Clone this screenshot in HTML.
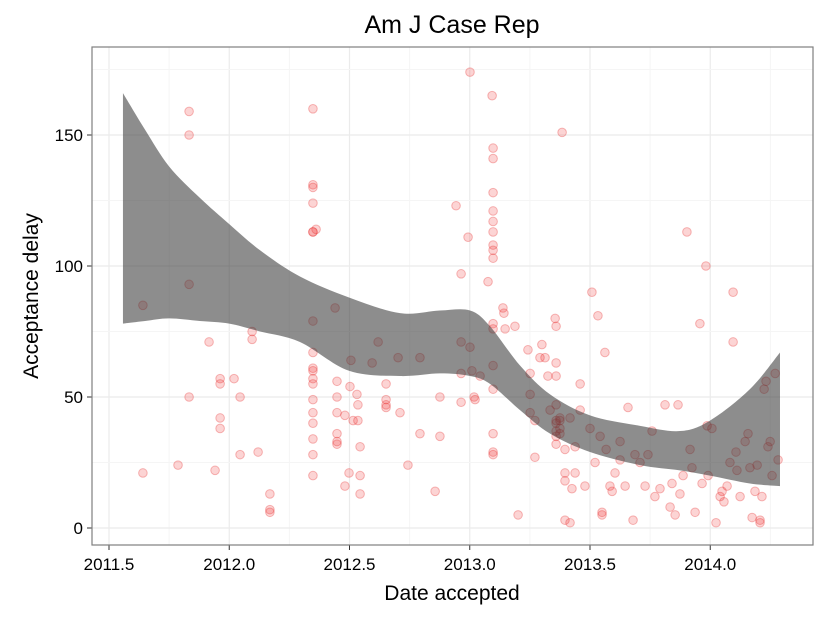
<!DOCTYPE html>
<html><head><meta charset="utf-8"><style>
body{margin:0;background:#fff}
svg{display:block;font-family:"Liberation Sans",sans-serif}
</style></head><body>
<svg id="chart" width="825" height="618">
<text x="452" y="33" font-size="25" text-anchor="middle">Am J Case Rep</text>
<text x="452" y="600" font-size="21" text-anchor="middle">Date accepted</text>
<text transform="translate(38,296) rotate(-90)" font-size="21" text-anchor="middle">Acceptance delay</text>
<g id="grid"></g><g id="pts"></g><g id="band"></g><g id="axes"></g>
<rect x="92" y="47" width="721" height="498" fill="none" stroke="#7f7f7f" stroke-width="1.2"/>
</svg>
<script>
const xTicks=[2011.5,2012.0,2012.5,2013.0,2013.5,2014.0];
const xTickLabels=["2011.5","2012.0","2012.5","2013.0","2013.5","2014.0"];
const yTicks=[0,50,100,150];
const yTickLabels=["0","50","100","150"];
const dates=[2011.641,2011.641,2011.787,2011.833,2011.833,2011.833,2011.833,2011.916,2011.941,2011.962,2011.962,2011.962,2011.962,2012.020,2012.045,2012.045,2012.095,2012.095,2012.120,2012.169,2012.169,2012.169,
2012.348,2012.348,2012.348,2012.348,2012.348,2012.348,2012.348,2012.348,2012.348,2012.348,2012.348,2012.348,2012.348,2012.348,2012.348,2012.348,2012.348,2012.348,2012.361,2012.440,
2012.448,2012.448,2012.448,2012.448,2012.448,2012.448,2012.481,2012.481,2012.498,2012.502,2012.506,2012.515,2012.531,2012.535,2012.535,2012.544,2012.544,2012.544,2012.594,2012.619,
2012.652,2012.652,2012.652,2012.652,2012.702,2012.710,2012.743,2012.793,2012.793,2012.856,2012.876,2012.876,2012.943,2012.964,2012.964,2012.964,2012.964,2012.993,2013.001,2013.001,2013.009,2013.018,2013.022,2013.043,2013.076,
2013.093,2013.097,2013.097,2013.097,2013.097,2013.097,2013.097,2013.097,2013.097,2013.097,2013.097,2013.097,2013.097,2013.097,2013.097,2013.097,2013.097,
2013.138,2013.142,2013.147,2013.188,2013.201,2013.242,2013.251,2013.251,2013.251,2013.271,2013.271,2013.292,2013.300,2013.313,2013.325,2013.334,
2013.355,2013.359,2013.359,2013.359,2013.359,2013.359,2013.359,2013.359,2013.359,2013.359,2013.375,2013.375,2013.375,2013.375,2013.384,2013.396,2013.396,2013.396,2013.396,
2013.417,2013.417,2013.425,2013.438,2013.438,2013.459,2013.459,2013.479,2013.500,2013.508,2013.521,2013.533,2013.542,2013.550,2013.550,2013.562,2013.567,2013.583,2013.592,2013.604,2013.625,2013.625,2013.646,2013.658,2013.679,2013.687,2013.708,2013.729,2013.741,2013.758,2013.770,2013.791,2013.812,2013.833,2013.841,2013.854,2013.866,2013.874,2013.887,2013.903,2013.916,2013.924,2013.937,2013.957,2013.966,2013.982,2013.987,2013.991,2014.007,2014.024,2014.041,2014.049,2014.057,2014.070,2014.082,2014.095,2014.095,2014.107,2014.111,2014.124,2014.145,2014.157,2014.165,2014.174,2014.186,2014.195,2014.207,2014.207,2014.215,2014.224,2014.232,2014.240,2014.249,2014.257,2014.270,2014.282];
const delays=[21,85,24,159,150,93,50,71,22,57,55,42,38,57,50,28,75,72,29,13,7,6,
160,131,130,124,113,113,79,67,61,60,57,55,49,44,40,34,28,20,114,84,
56,50,44,36,33,32,43,16,21,54,64,41,51,47,41,31,20,13,63,71,
55,49,47,46,65,44,24,36,65,14,50,35,123,97,71,59,48,111,174,69,60,50,49,58,94,
165,145,141,128,121,117,113,108,106,103,78,76,62,53,36,29,28,
84,82,76,77,5,68,59,51,44,41,27,65,70,65,58,45,
80,77,63,58,47,41,40,37,35,32,42,41,38,36,151,30,21,18,3,
42,2,15,21,31,55,45,16,38,90,25,81,35,5,6,67,30,16,14,21,33,26,16,46,3,28,25,16,28,37,12,15,47,8,17,5,47,13,20,113,30,23,6,78,17,100,39,20,38,2,12,14,10,16,25,90,71,29,22,12,33,36,23,4,14,24,3,2,12,53,56,31,33,20,59,26];
const bandX=[2011.558,2011.65,2011.75,2011.878,2012.0,2012.128,2012.294,2012.498,2012.710,2012.876,2013.001,2013.084,2013.209,2013.334,2013.500,2013.708,2013.874,2013.999,2014.165,2014.290];
const bandUpper=[166,152,138,126,116,106,96,88,82,83,83,77,62,51,43,39,37,41,53,67];
const bandLower=[78,79,80,79,78,75,71,60,58,59,58,55,45,36,29,24,22,20,17,16];

const NS="http://www.w3.org/2000/svg";
const X=d=>109+(d-2011.5)*240.5;
const Y=v=>528-v*2.62;
function mk(t,a,p){const e=document.createElementNS(NS,t);for(const k in a)e.setAttribute(k,a[k]);p.appendChild(e);return e;}
const grid=document.getElementById('grid'),axes=document.getElementById('axes');
for(let i=0;i<xTicks.length;i++){
  const x=X(xTicks[i]);
  const g=mk('line',{x1:x,x2:x,y1:47,y2:545,stroke:'#ebebeb','stroke-width':1.2},grid);
  
  
  const xm=X(xTicks[i]+0.25);const m=mk('line',{x1:xm,x2:xm,y1:47,y2:545,stroke:'#f5f5f5','stroke-width':1},grid);
  
  
  const tk=mk('line',{x1:x,x2:x,y1:545,y2:550,stroke:'#333','stroke-width':1},axes);
  
  
  const t=mk('text',{x:x,y:570,'font-size':17,'text-anchor':'middle',fill:'#000'},axes);t.textContent=xTickLabels[i];
  
  
}
for(let i=0;i<yTicks.length;i++){
  const y=Y(yTicks[i]);
  const g=mk('line',{x1:92,x2:813,y1:y,y2:y,stroke:'#ebebeb','stroke-width':1.2},grid);
  
  
  const ym=Y(yTicks[i]+25);const m=mk('line',{x1:92,x2:813,y1:ym,y2:ym,stroke:'#f5f5f5'},grid);
  
  
  const tk=mk('line',{x1:87,x2:92,y1:y,y2:y,stroke:'#333'},axes);
  
  
  const t=mk('text',{x:83,y:y+6,'font-size':17,'text-anchor':'end',fill:'#000'},axes);t.textContent=yTickLabels[i];
  
  
}
const pts=document.getElementById('pts');
for(let i=0;i<dates.length;i++){
  const c=mk('circle',{cx:X(dates[i]),cy:Y(delays[i]),r:4.3,fill:'rgba(240,40,40,0.2)',stroke:'rgba(230,30,30,0.3)','stroke-width':1},pts);
  
  
}
function spline(P,start){
  let s=start?'M'+P[0][0]+','+P[0][1]:'L'+P[0][0]+','+P[0][1];
  for(let i=0;i<P.length-1;i++){
    const p0=P[i-1]||P[i],p1=P[i],p2=P[i+1],p3=P[i+2]||P[i+1];
    const c1=[p1[0]+(p2[0]-p0[0])/6,p1[1]+(p2[1]-p0[1])/6];
    const c2=[p2[0]-(p3[0]-p1[0])/6,p2[1]-(p3[1]-p1[1])/6];
    s+='C'+c1+' '+c2+' '+p2;
  }
  return s;
}
const up=bandX.map((b,i)=>[X(b),Y(bandUpper[i])]);
const lo=bandX.map((b,i)=>[X(b),Y(bandLower[i])]).reverse();
const d=spline(up,true)+spline(lo,false)+'Z';
const band=mk('path',{d:d,fill:'rgba(51,51,51,0.56)',stroke:'none'},document.getElementById('band'));


</script>
</body></html>
